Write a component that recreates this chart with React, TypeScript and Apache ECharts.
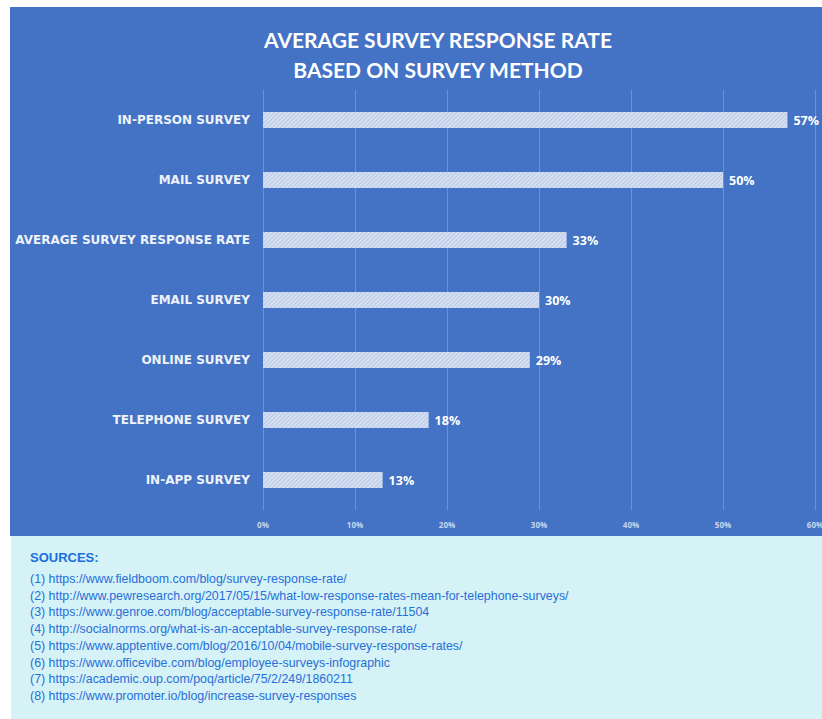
import React, { useEffect, useRef } from "react";
import * as echarts from "echarts";

const titleLines = ["AVERAGE SURVEY RESPONSE RATE", "BASED ON SURVEY METHOD"];
const categories = [
  "IN-PERSON SURVEY",
  "MAIL SURVEY",
  "AVERAGE SURVEY RESPONSE RATE",
  "EMAIL SURVEY",
  "ONLINE SURVEY",
  "TELEPHONE SURVEY",
  "IN-APP SURVEY",
];
const values = [57, 50, 33, 30, 29, 18, 13];
const axisMin = 0;
const axisMax = 60;
const axisStep = 10;
const sourcesHeading = "SOURCES:";
const sources = [
  "(1) https://www.fieldboom.com/blog/survey-response-rate/",
  "(2) http://www.pewresearch.org/2017/05/15/what-low-response-rates-mean-for-telephone-surveys/",
  "(3) https://www.genroe.com/blog/acceptable-survey-response-rate/11504",
  "(4) http://socialnorms.org/what-is-an-acceptable-survey-response-rate/",
  "(5) https://www.apptentive.com/blog/2016/10/04/mobile-survey-response-rates/",
  "(6) https://www.officevibe.com/blog/employee-surveys-infographic",
  "(7) https://academic.oup.com/poq/article/75/2/249/1860211",
  "(8) https://www.promoter.io/blog/increase-survey-responses",
];

export default function App() {
  const ref = useRef<HTMLDivElement>(null);
  useEffect(() => {
    if (!ref.current) return;
    const chart = echarts.init(ref.current, undefined, { renderer: "svg" });
    const graphics: any[] = [
      { type: "rect", z: -10, silent: true, shape: { x: 10, y: 7, width: 812, height: 529 }, style: { fill: "#4472c4" } },
      { type: "rect", z: -10, silent: true, shape: { x: 11, y: 536, width: 811, height: 183 }, style: { fill: "#d5f2f7" } },
      {
        type: "text",
        x: 438,
        y: 39,
        style: {
          text: titleLines[0],
          align: "center",
          verticalAlign: "middle",
          fill: "#ffffff",
          font: "bold 21px Lato",
        },
      },
      {
        type: "text",
        x: 438,
        y: 69,
        style: {
          text: titleLines[1],
          align: "center",
          verticalAlign: "middle",
          fill: "#ffffff",
          font: "bold 21px Lato",
        },
      },
      {
        type: "text",
        x: 30,
        y: 557,
        style: {
          text: sourcesHeading,
          verticalAlign: "middle",
          fill: "#1a6ee0",
          font: "bold 13px 'Liberation Sans'",
        },
      },
    ];
    sources.forEach((s, i) => {
      graphics.push({
        type: "text",
        x: 30,
        y: 579 + i * 16.7,
        style: {
          text: s,
          verticalAlign: "middle",
          fill: "#276fd8",
          font: "12.4px 'Liberation Sans'",
        },
      });
    });
    chart.setOption({
      animation: false,
      grid: {
        left: 263,
        right: 7,
        top: 90,
        bottom: 209,
        containLabel: false,
        outerBoundsMode: "none",
      },
      xAxis: {
        type: "value",
        min: axisMin,
        max: axisMax,
        interval: axisStep,
        axisLine: { show: false },
        axisTick: { show: false },
        splitLine: { lineStyle: { color: "rgba(255,255,255,0.22)", width: 1 } },
        axisLabel: {
          formatter: "{value}%",
          color: "#c8d5ee",
          fontSize: 8,
          fontWeight: "bold",
          fontFamily: "'Open Sans'",
          margin: 10,
        },
      },
      yAxis: {
        type: "category",
        inverse: true,
        data: categories,
        axisLine: { show: false },
        axisTick: { show: false },
        splitLine: { show: false },
        axisLabel: {
          color: "#eef2fa",
          fontSize: 12,
          fontWeight: "bold",
          fontFamily: "'DejaVu Sans'",
          margin: 13,
        },
      },
      series: [
        {
          type: "bar",
          data: values,
          barWidth: 16,
          itemStyle: {
            color: "#d6e0f3",
            decal: {
              symbol: "rect",
              symbolSize: 1,
              color: "rgba(150,170,210,0.45)",
              dashArrayX: [1, 0],
              dashArrayY: [1, 2],
              rotation: -Math.PI / 4,
            },
          },
          label: {
            show: true,
            position: "right",
            distance: 6,
            formatter: "{c}%",
            color: "#ffffff",
            fontSize: 12.5,
            fontWeight: "bold",
            fontFamily: "'Open Sans'",
          },
        },
      ],
      graphic: graphics,
    });
    return () => chart.dispose();
  }, []);
  return (
    <div
      ref={ref}
      style={{ position: "fixed", left: 0, top: 0, width: 822, height: 719, background: "#ffffff" }}
    />
  );
}
